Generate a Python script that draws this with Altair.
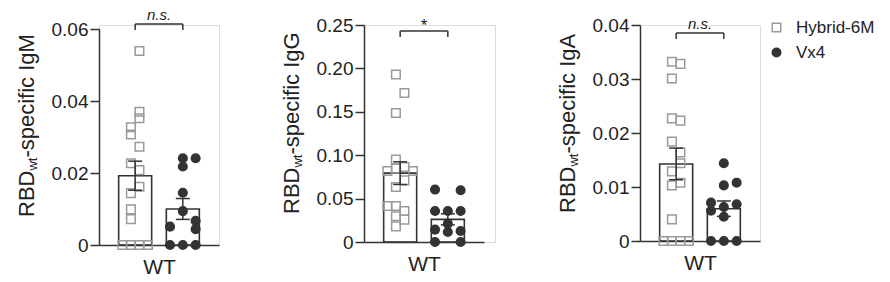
import altair as alt
import pandas as pd

groups = ["Hybrid-6M", "Vx4"]
antibodies = ["IgM", "IgG", "IgA"]

# values; *_col = beeswarm column of each point
igm_hybrid = [0.0539, 0.0370, 0.0352, 0.0327, 0.0307, 0.0273, 0.0227, 0.0208,
              0.0162, 0.0144, 0.0099, 0.0072, 0, 0, 0, 0]
igm_hybrid_col = [0.5, 0.5, 0.5, -0.5, -0.5, 0.5, -0.5, 0.5,
                  0.5, -0.5, -0.5, -0.5, -1.5, -0.5, 0.5, 1.5]
igm_vx4 = [0.0241, 0.0241, 0.0218, 0.0145, 0.0094, 0.0051, 0.0067, 0.0044, 0, 0, 0]
igm_vx4_col = [0, 1.5, 0, 0, 0, -1.5, 1.5, 1.5, -1.5, 0, 1.5]

igg_hybrid = [0.193, 0.1717, 0.1486, 0.0949, 0.0818, 0.0845, 0.0864, 0.0818,
              0.0710, 0.0634, 0.0415, 0.0415, 0.0357, 0.0296, 0.0258, 0.0180]
igg_hybrid_col = [-0.5, 0.5, -0.5, -0.5, -1.5, -0.5, 0.5, 1.5,
                  0.5, -0.5, -1.5, -0.5, 0.5, -0.5, 0.5, -0.5]
igg_vx4 = [0.0604, 0.0596, 0.0357, 0.0357, 0.0357, 0.0212, 0.0143, 0.0115, 0.0127, 0, 0]
igg_vx4_col = [-1.5, 1.5, -1.5, 0, 1.5, 0, -1.5, 0, 1.5, -1.5, 1.5]

iga_hybrid = [0.0332, 0.0328, 0.0301, 0.0227, 0.0223, 0.0184, 0.0164, 0.0144,
              0.0129, 0.0103, 0.0108, 0.0040, 0, 0, 0, 0]
iga_hybrid_col = [-0.5, 0.5, -0.5, -0.5, 0.5, -0.5, 0.5, 0.5,
                  -0.5, -0.5, 0.5, -0.5, -1.5, -0.5, 0.5, 1.5]
iga_vx4 = [0.0144, 0.0103, 0.0108, 0.0071, 0.0068, 0.0056, 0.0063, 0.0045, 0, 0, 0]
iga_vx4_col = [0, 0, 1.5, -1.5, 1.5, -1.5, 0, 0, -1.5, 0, 1.5]

y_max = [0.06, 0.25, 0.04]
y_ticks = [[0, 0.02, 0.04, 0.06],
           [0, 0.05, 0.10, 0.15, 0.20, 0.25],
           [0, 0.01, 0.02, 0.03, 0.04]]
sig_label = ["n.s.", "*", "n.s."]
sig_height = [0.0614, 0.2431, 0.0385]
x_label = "WT"

series = [
    (igm_hybrid, igm_hybrid_col, igm_vx4, igm_vx4_col),
    (igg_hybrid, igg_hybrid_col, igg_vx4, igg_vx4_col),
    (iga_hybrid, iga_hybrid_col, iga_vx4, iga_vx4_col),
]

FONT = "Liberation Sans"
DARK = "#333333"
TXT = "#222222"
PW = 120
# layout: (group width, group height, y-range top inset)
LAYOUT = [(120, 220, 4), (131, 217, 0), (120, 216, 0)]

legend = alt.Legend(title=None, orient="none", legendX=669, legendY=-6,
                    padding=0, labelFontSize=17, labelFont=FONT, labelColor=TXT,
                    labelOffset=11, rowPadding=7, symbolSize=72,
                    symbolStrokeWidth=1.5)
shape_scale = alt.Scale(domain=groups, range=["square", "circle"])
fill_scale = alt.Scale(domain=groups, range=["transparent", DARK])
stroke_scale = alt.Scale(domain=groups, range=["#9a9a9a", DARK])


def panel(i):
    h_vals, h_col, v_vals, v_col = series[i]
    df = pd.DataFrame({
        "group": [groups[0]] * len(h_vals) + [groups[1]] * len(v_vals),
        "gi": [0] * len(h_vals) + [1] * len(v_vals),
        "value": h_vals + v_vals,
        "col": h_col + v_col,
    })
    GW, H, inset = LAYOUT[i]
    xs = alt.Scale(domain=[-0.654, 1.654], nice=False, zero=False, range=[0, PW])
    ys = alt.Scale(domain=[0, y_max[i]], nice=False, zero=True, range=[H, inset])
    xaxis = alt.Axis(title=x_label, labels=False, ticks=False, grid=False,
                     domainColor=DARK, domainWidth=1.5, titleFont=FONT,
                     titleFontSize=21, titleFontWeight="normal", titleColor=TXT,
                     titlePadding=11, titleX=PW / 2)
    yaxis = alt.Axis(title=None, values=y_ticks[i], grid=False,
                     labelExpr="datum.value == 0 ? '0' : format(datum.value, '.2f')",
                     domainColor=DARK, domainWidth=1.5, tickColor=DARK,
                     tickWidth=1.5, tickSize=9, labelPadding=2, labelFont=FONT,
                     labelFontSize=19, labelColor=TXT)
    base = alt.Chart(df)

    def X(f):
        return alt.X(f, scale=xs, axis=xaxis)

    def Y(f):
        return alt.Y(f, scale=ys, axis=yaxis)

    bars = base.transform_aggregate(
        mean="mean(value)", groupby=["group", "gi"]
    ).mark_bar(size=33, orient="vertical", fillOpacity=0, stroke=DARK,
               strokeWidth=1.6).encode(x=X("gi:Q"), y=Y("mean:Q"))

    points = base.transform_calculate(
        xpos="datum.gi + datum.col * 0.179"
    ).mark_point(size=74, opacity=1, strokeWidth=1.5).encode(
        x=X("xpos:Q"),
        y=Y("value:Q"),
        shape=alt.Shape("group:N", scale=shape_scale, legend=legend),
        fill=alt.Fill("group:N", scale=fill_scale, legend=legend),
        stroke=alt.Stroke("group:N", scale=stroke_scale, legend=legend),
    )

    stats = base.transform_aggregate(
        mean="mean(value)", se="stderr(value)", groupby=["group", "gi"]
    ).transform_calculate(lo="datum.mean - datum.se", hi="datum.mean + datum.se")
    err = stats.mark_rule(color=DARK, strokeWidth=1.5).encode(
        x=X("gi:Q"), y=Y("lo:Q"), y2="hi:Q")
    cap_hi = stats.mark_tick(orient="horizontal", size=14, thickness=1.5,
                             color=DARK, opacity=1).encode(x=X("gi:Q"), y=Y("hi:Q"))
    cap_lo = stats.mark_tick(orient="horizontal", size=14, thickness=1.5,
                             color=DARK, opacity=1).encode(x=X("gi:Q"), y=Y("lo:Q"))

    sig = alt.Chart(pd.DataFrame({"x1": [0], "x2": [1], "xm": [0.5],
                                  "b": [sig_height[i]], "label": [sig_label[i]]}))
    br = sig.mark_rule(color=DARK, strokeWidth=1.5).encode(
        x=X("x1:Q"), x2="x2:Q", y=Y("b:Q"))
    end1 = sig.mark_tick(orient="vertical", size=6, thickness=1.5, color=DARK,
                         opacity=1, yOffset=3).encode(x=X("x1:Q"), y=Y("b:Q"))
    end2 = sig.mark_tick(orient="vertical", size=6, thickness=1.5, color=DARK,
                         opacity=1, yOffset=3).encode(x=X("x2:Q"), y=Y("b:Q"))
    star = sig_label[i] == "*"
    txt = sig.mark_text(font=FONT, fontSize=17 if star else 15,
                        fontStyle="normal" if star else "italic",
                        baseline="alphabetic", align="center",
                        dy=0 if star else -4, color=TXT).encode(
        x=X("xm:Q"), y=Y("b:Q"), text="label:N")

    # y-axis title with subscript "wt"
    tdf = alt.Chart(pd.DataFrame({"k": [0]}))
    t1 = tdf.mark_text(text="RBD", angle=270, align="left", baseline="alphabetic",
                       font=FONT, fontSize=22, color=TXT).encode(
        x=alt.value(-65), y=alt.value(H - 28))
    t2 = tdf.mark_text(text="wt", angle=270, align="left", baseline="alphabetic",
                       font=FONT, fontSize=13, color=TXT).encode(
        x=alt.value(-62), y=alt.value(H - 28 - 46.4))
    t3 = tdf.mark_text(text="-specific " + antibodies[i], angle=270, align="left",
                       baseline="alphabetic", font=FONT, fontSize=22, color=TXT).encode(
        x=alt.value(-65), y=alt.value(H - 28 - 46.4 - 13))

    return alt.layer(bars, points, err, cap_hi, cap_lo, br, end1, end2, txt,
                     t1, t2, t3).properties(width=GW, height=H)


chart = alt.hconcat(panel(0), panel(1), panel(2), spacing=145, bounds="flush").resolve_scale(
    shape="shared", fill="shared", stroke="shared"
).properties(
    padding={"left": 15, "top": 7, "right": 5, "bottom": 0}
).configure_view(strokeWidth=0).configure(font=FONT)

chart.save("out.html", embed_options={"renderer": "svg", "actions": False})
